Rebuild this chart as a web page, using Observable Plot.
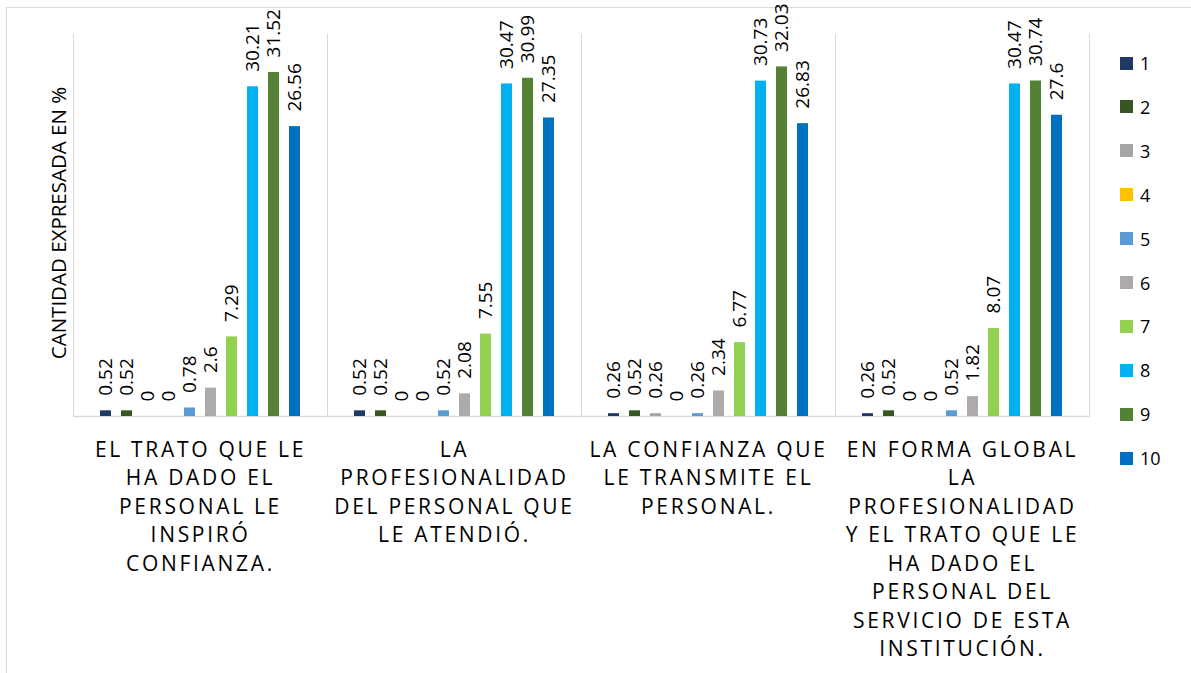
<!DOCTYPE html>
<html>
<head>
<meta charset="utf-8">
<script src="https://cdn.jsdelivr.net/npm/d3@7"></script>
<script src="https://cdn.jsdelivr.net/npm/@observablehq/plot@0.6"></script>
<style>
  html, body { margin: 0; padding: 0; background: #fff; }
  body { width: 1191px; height: 673px; position: relative; overflow: hidden; font-family: "Open Sans", sans-serif; }
  #border { position: absolute; left: 6px; top: 7px; width: 1200px; height: 700px; border-left: 1px solid #d9d9d9; border-top: 1px solid #d9d9d9; }
  #chart { position: absolute; left: 0; top: 0; }
  #ytitle { position: absolute; left: 58px; top: 223px; transform: translate(-50%, -50%) rotate(-90deg); white-space: nowrap; font-size: 20.5px; color: #000; }
  #legend { position: absolute; left: 1120px; top: 63px; }
  .li { position: absolute; left: 0; height: 20px; display: flex; align-items: center; font-size: 18px; color: #000; transform: translateY(-50%); white-space: nowrap; }
  .sw { width: 13px; height: 13px; margin-right: 7px; }
  g[aria-label="fx-axis tick label"] text { letter-spacing: 2.7px; }
</style>
</head>
<body>
<div id="border"></div>
<div id="chart"></div>
<div id="ytitle">CANTIDAD EXPRESADA EN %</div>
<div id="legend"></div>
<script>
const categories = [
  "EL TRATO QUE LE HA DADO EL PERSONAL LE INSPIRÓ CONFIANZA.",
  "LA PROFESIONALIDAD DEL PERSONAL QUE LE ATENDIÓ.",
  "LA CONFIANZA QUE LE TRANSMITE EL PERSONAL.",
  "EN FORMA GLOBAL LA PROFESIONALIDAD Y EL TRATO QUE LE HA DADO EL PERSONAL DEL SERVICIO DE ESTA INSTITUCIÓN."
];
const categoryLines = [
  ["EL TRATO QUE LE", "HA DADO EL", "PERSONAL LE", "INSPIRÓ", "CONFIANZA."],
  ["LA", "PROFESIONALIDAD", "DEL PERSONAL QUE", "LE ATENDIÓ."],
  ["LA CONFIANZA QUE", "LE TRANSMITE EL", "PERSONAL."],
  ["EN FORMA GLOBAL", "LA", "PROFESIONALIDAD", "Y EL TRATO QUE LE", "HA DADO EL", "PERSONAL DEL", "SERVICIO DE ESTA", "INSTITUCIÓN."]
];
const series = ["1", "2", "3", "4", "5", "6", "7", "8", "9", "10"];
const colors = ["#203864", "#375623", "#a5a5a5", "#ffc000", "#5b9bd5", "#aeaaaa", "#92d050", "#00b0f0", "#548235", "#0070c0"];

const valuesTrato = [0.52, 0.52, 0, 0, 0.78, 2.6, 7.29, 30.21, 31.52, 26.56];
const valuesProfesionalidad = [0.52, 0.52, 0, 0, 0.52, 2.08, 7.55, 30.47, 30.99, 27.35];
const valuesConfianza = [0.26, 0.52, 0.26, 0, 0.26, 2.34, 6.77, 30.73, 32.03, 26.83];
const valuesGlobal = [0.26, 0.52, 0, 0, 0.52, 1.82, 8.07, 30.47, 30.74, 27.6];

const allValues = [valuesTrato, valuesProfesionalidad, valuesConfianza, valuesGlobal];
const data = [];
categories.forEach((c, ci) => {
  series.forEach((s, si) => data.push({cat: c, s, v: allValues[ci][si]}));
});
const labelOf = new Map(categories.map((c, i) => [c, categoryLines[i].join("\n")]));

const chart = Plot.plot({
  width: 1191,
  height: 673,
  marginTop: 34,
  marginBottom: 257,
  marginLeft: 71,
  marginRight: 101,
  style: {fontFamily: "Open Sans, sans-serif", background: "transparent"},
  fx: {domain: categories, padding: 0, label: null},
  x: {domain: series, paddingInner: 0.49, paddingOuter: 1.17, axis: null},
  y: {domain: [0, 35], axis: null},
  color: {domain: series, range: colors},
  marks: [
    Plot.frame({anchor: "left", stroke: "#d9d9d9"}),
    Plot.frame({anchor: "right", stroke: "#d9d9d9"}),
    Plot.ruleY([0], {stroke: "#d9d9d9", strokeWidth: 1.5}),
    Plot.barY(data, {fx: "cat", x: "s", y: "v", fill: "s"}),
    Plot.text(data, {
      fx: "cat", x: "s", y: "v", text: d => String(d.v),
      rotate: -90, textAnchor: "start", dy: -15, fontSize: 19, fill: "#000"
    }),
    Plot.axisFx({
      anchor: "bottom", tickSize: 0, tickPadding: 20, label: null,
      tickFormat: d => labelOf.get(d), fontSize: 21, lineHeight: 1.357, fill: "#000"
    })
  ]
});
document.getElementById("chart").appendChild(chart);

const legend = document.getElementById("legend");
series.forEach((s, i) => {
  const item = document.createElement("div");
  item.className = "li";
  item.style.top = (i * 43.9) + "px";
  const sw = document.createElement("div");
  sw.className = "sw";
  sw.style.background = colors[i];
  item.appendChild(sw);
  item.appendChild(document.createTextNode(s));
  legend.appendChild(item);
});
</script>
</body>
</html>
